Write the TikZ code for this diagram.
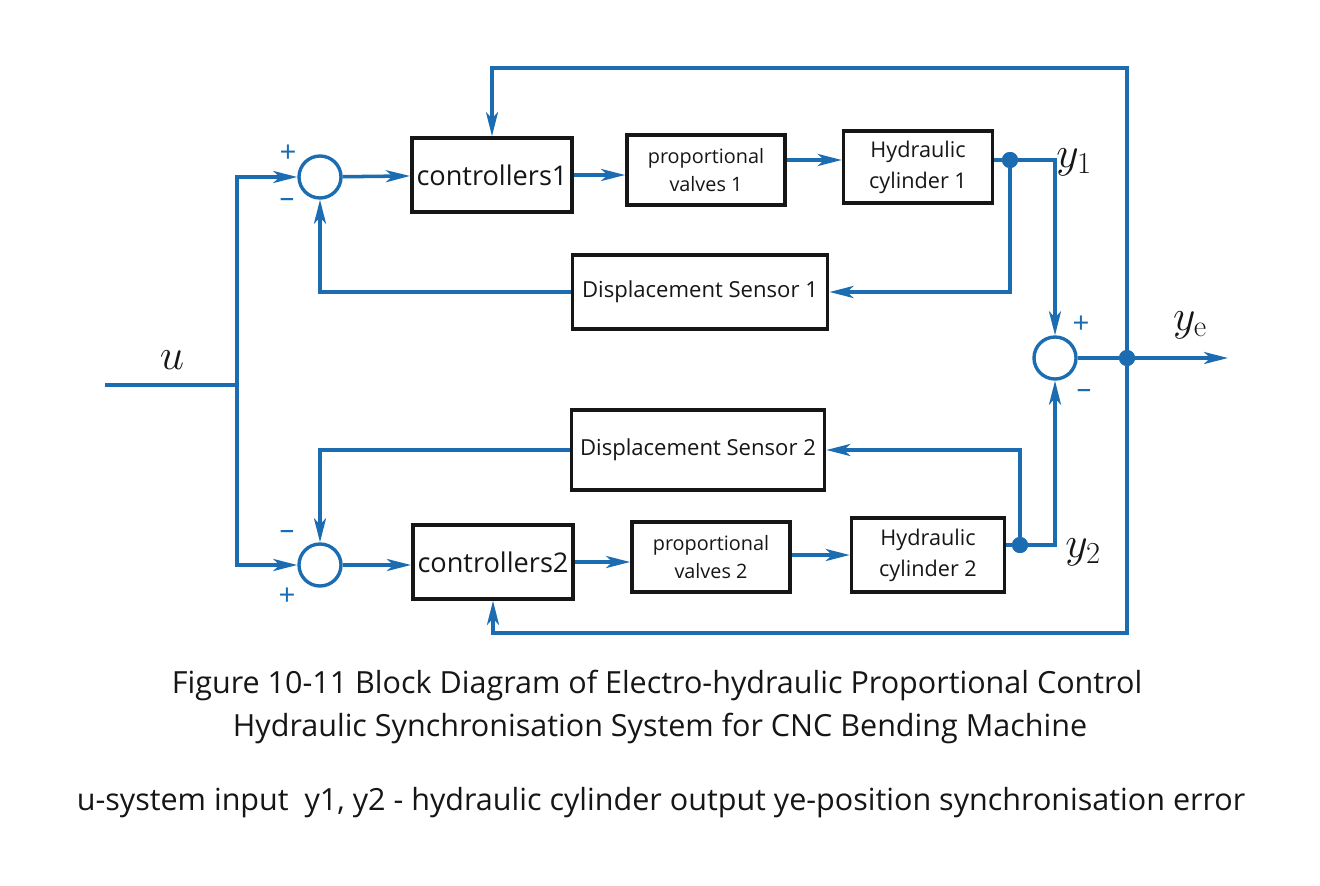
\RequirePackage{fix-cm}
\documentclass[tikz,border=0pt]{standalone}
\usepackage[no-math]{fontspec}
\setmainfont{Open Sans}
\usetikzlibrary{arrows.meta,positioning,calc}
\definecolor{lineBlue}{RGB}{28,108,178}
\definecolor{inkBlack}{RGB}{22,22,22}
\tikzset{
  block node/.style={draw=inkBlack,line width=2.6pt,fill=white,align=center,text=inkBlack,font=\fontsize{14.1}{20}\selectfont,minimum height=1.85cm},
  sum node/.style={circle,draw=lineBlue,line width=2.4pt,fill=white,minimum size=1.05cm,inner sep=0pt},
  signal arrow/.style={-{Stealth[length=6mm,width=3mm,inset=1.6mm]},line width=2.5pt,draw=lineBlue},
  signal line/.style={line width=2.5pt,draw=lineBlue},
  branch dot/.style={circle,fill=lineBlue,inner sep=0pt,minimum size=4mm},
  sign label/.style={text=lineBlue,font=\fontsize{21}{21}\selectfont},
  var label/.style={text=inkBlack,font=\fontsize{31}{31}\selectfont},
  caption text/.style={text=inkBlack,font=\fontsize{21.7}{26}\selectfont}
}
\begin{document}
\begin{tikzpicture}[x=0.025cm,y=-0.025cm]
        \useasboundingbox[fill=white] (0,0) rectangle (1320,886);
        % upper channel
        \node[sum node] (sumA) at (320,177) {};
        \node[block node,minimum width=3.9cm,font=\fontsize{19.3}{22}\selectfont] (ctrlA) at (492,175) {controllers1};
        \node[block node,minimum width=3.95cm,minimum height=1.75cm] (valveA) at (706,170) {proportional\\valves 1};
        \node[block node,minimum width=3.72cm,minimum height=1.8cm,font=\fontsize{15.4}{22}\selectfont] (cylA) at (918,167) {Hydraulic\\cylinder 1};
        \node[block node,minimum width=6.38cm,font=\fontsize{15.7}{18}\selectfont] (sensA) at (700,292) {Displacement Sensor 1};
        % lower channel
        \node[sum node] (sumB) at (320,565) {};
        \node[block node,minimum width=4cm,font=\fontsize{19.3}{22}\selectfont] (ctrlB) at (493,562) {controllers2};
        \node[block node,minimum width=3.95cm,minimum height=1.75cm] (valveB) at (711,557) {proportional\\valves 2};
        \node[block node,minimum width=3.82cm,font=\fontsize{15.4}{22}\selectfont] (cylB) at (928,555) {Hydraulic\\cylinder 2};
        \node[block node,minimum width=6.32cm,minimum height=2cm,font=\fontsize{15.7}{18}\selectfont] (sensB) at (698,450) {Displacement Sensor 2};
        % output side
        \node[sum node] (sumC) at (1055,358) {};
        \coordinate (uIn) at (105,385);
        \coordinate (uSplit) at (237,385);
        \coordinate (topCorner) at (1127,68);
        \coordinate (botCorner) at (1127,633);
        \coordinate (yeEnd) at (1228,358);
        \node[branch dot] (dotA) at (1010,160) {};
        \node[branch dot] (dotB) at (1020,545) {};
        \node[branch dot] (dotE) at (1127,358) {};
        % connectors
        \draw[signal line] (uIn) -- (uSplit);
        \draw[signal arrow] (uSplit) |- (sumA.west);
        \draw[signal arrow] (uSplit) |- (sumB.west);
        \draw[signal arrow] (sumA) -- (ctrlA);
        \draw[signal arrow] (ctrlA.east) -- (ctrlA.east -| valveA.west);
        \draw[signal arrow] (valveA.east |- dotA) -- (cylA.west |- dotA);
        \draw[signal line] (cylA.east |- dotA) -- (dotA);
        \draw[signal arrow] (dotA) -| (sumC.north);
        \draw[signal arrow] (dotA) |- (sensA.east);
        \draw[signal arrow] (sensA.west) -| (sumA.south);
        \draw[signal arrow] (sumB) -- (sumB -| ctrlB.west);
        \draw[signal arrow] (ctrlB.east) -- (ctrlB.east -| valveB.west);
        \draw[signal arrow] (valveB.east |- cylB.west) -- (cylB.west);
        \draw[signal line] (cylB.east |- dotB) -- (dotB);
        \draw[signal arrow] (dotB) -| (sumC.south);
        \draw[signal arrow] (dotB) |- (sensB.east);
        \draw[signal arrow] (sensB.west) -| (sumB.north);
        \draw[signal line] (sumC) -- (dotE);
        \draw[signal arrow] (dotE) -- (yeEnd);
        \draw[signal arrow] (dotE) -- (topCorner) -| (ctrlA.north);
        \draw[signal arrow] (dotE) -- (botCorner) -| (ctrlB.south);
        \node[branch dot] at (dotA) {};
        \node[branch dot] at (dotB) {};
        \node[branch dot] at (dotE) {};
        % signs and signals
        \node[sign label] (plusA) at (288,154) {+};
        \node[sign label] (minusA) at (287,203) {–};
        \node[sign label] (minusB) at (287,535) {–};
        \node[sign label] (plusB) at (287,597) {+};
        \node[sign label] (plusC) at (1081,325) {+};
        \node[sign label] (minusC) at (1084,394) {–};
        \node[var label] (uLab) at (172,360) {$u$};
        \node[var label] (yOneLab) at (1074,162) {$y_1$};
        \node[var label] (yTwoLab) at (1083,552) {$y_2$};
        \node[var label] (yeLab) at (1190,325) {$y_{\mathrm{e}}$};
        % caption
        \node[caption text] (capA) at (657,685) {Figure 10-11 Block Diagram of Electro-hydraulic Proportional Control};
        \node[caption text] (capB) at (660,728) {Hydraulic Synchronisation System for CNC Bending Machine};
        \node[caption text] (capC) at (661,803) {u-system input\ \ y1, y2 - hydraulic cylinder output ye-position synchronisation error};
      \end{tikzpicture}
\end{document}
